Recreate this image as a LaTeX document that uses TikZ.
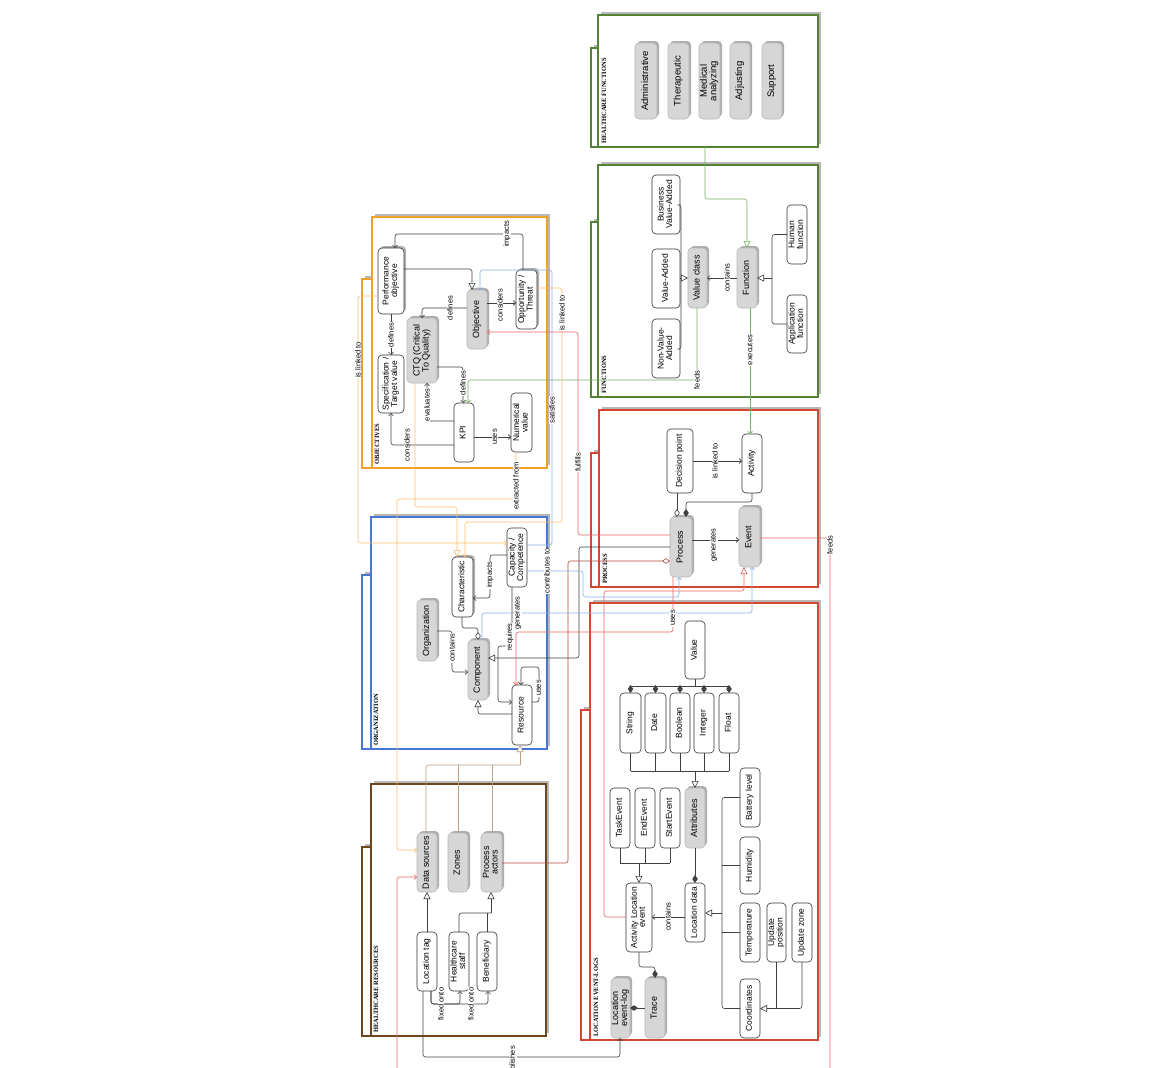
\documentclass[tikz,border=0pt]{standalone}
\usepackage{fontspec}
\setmainfont{Liberation Sans}
\newfontfamily\titlefont{Liberation Serif}
\usetikzlibrary{arrows.meta,shadows}
\definecolor{cgreen}{RGB}{84,130,53}
\definecolor{lgreen}{RGB}{120,178,100}
\definecolor{corange}{RGB}{240,160,40}
\definecolor{lorange}{RGB}{250,190,110}
\definecolor{cblue}{RGB}{70,120,210}
\definecolor{lblue}{RGB}{140,175,230}
\definecolor{cred}{RGB}{210,70,50}
\definecolor{lred}{RGB}{230,100,100}
\definecolor{cbrown}{RGB}{110,70,30}
\definecolor{lbrown}{RGB}{190,160,130}
\definecolor{dred}{RGB}{180,75,60}
\renewcommand{\arraystretch}{0.85}
\newcommand{\mkbox}[7]{\node[#1, minimum width={(#5-#3)*1pt}, minimum height={(#6-#4)*1pt}] (#2) at ({(#3+#5)/2},{(#4+#6)/2}) {\rotatebox{90}{\begin{tabular}{@{}c@{}}#7\end{tabular}}};}
\newcommand{\mkcont}[7]{%
  \fill[black!28] ({#6+3},{#7-3}) rectangle ({#2+3},{#5-3});
  \filldraw[fill=white, draw=#1, line width=1.2pt] (#6,#7) rectangle (#2,#5);
  \fill[black!28] ({#2+3},{#3-3}) rectangle ({#4+3},{#5-3});
  \filldraw[fill=white, draw=#1, line width=1.2pt] (#2,#3) rectangle (#4,#5);}
\begin{document}
\begin{tikzpicture}[x=1pt,y=-1pt,
  box/.style={rectangle, rounded corners=4pt, inner sep=0pt, outer sep=0pt, draw=black!80, line width=0.6pt, fill=white, font=\fontsize{8.5}{9.3}\selectfont},
  wbox/.style={box},
  wsbox/.style={box, drop shadow={shadow xshift=2pt,shadow yshift=2pt,opacity=1,fill=black!30}},
  gbox/.style={box, fill=black!16, draw=black!28, font=\fontsize{9}{9.8}\selectfont, drop shadow={shadow xshift=2pt,shadow yshift=2pt,opacity=1,fill=black!32}},
  hbox/.style={gbox, font=\fontsize{9.5}{10}\selectfont},
  con/.style={draw=black!75, line width=0.6pt, rounded corners=2.5pt},
  lg/.style={draw=lgreen}, lo/.style={draw=lorange}, lb/.style={draw=lblue},
  lr/.style={draw=lred}, lbr/.style={draw=lbrown}, dr/.style={draw=dred},
  arr/.style={-{Straight Barb[length=2.5pt,width=5pt]}},
  gen/.style={-{Triangle[length=7pt,width=7pt,fill=white]}},
  agg/.style={{Diamond[length=8pt,width=5.5pt,fill=white]}-},
  cmp/.style={{Diamond[length=8pt,width=5.5pt]}-},
  lbl/.style={rotate=90, fill=white, inner sep=0.7pt, font=\fontsize{7.5}{8.5}\selectfont},
  ttl/.style={rotate=90, anchor=west, inner sep=0pt, font=\titlefont\bfseries\fontsize{6.5}{7.5}\selectfont}]
\useasboundingbox (0,0) rectangle (1176,1068);
\clip (0,0) rectangle (1176,1068);
\fill[white] (0,0) rectangle (1176,1068);

% containers
\mkcont{cgreen}{598}{15}{818}{147}{591}{48}
\mkcont{cgreen}{598}{165}{818}{397}{591}{222}
\mkcont{corange}{372}{217}{547}{468}{362}{279}
\mkcont{cred}{599}{410}{818}{587}{591}{453}
\mkcont{cblue}{371}{517}{547}{749}{362}{575}
\mkcont{cbrown}{371}{784}{546}{1036}{362}{847}
\mkcont{cred}{590}{603}{818}{1040}{581}{710}

\node[ttl] (t1) at (604,144) {HEALTHCARE FUNCTIONS};
\node[ttl] (t2) at (604,394) {FUNCTIONS};
\node[ttl] (t3) at (377,465) {OBJECTIVES};
\node[ttl] (t4) at (605,584) {PROCESS};
\node[ttl] (t5) at (376,746) {ORGANIZATION};
\node[ttl] (t6) at (376,1033) {HEALTHCARE RESOURCES};
\node[ttl] (t7) at (596,1037) {LOCATION EVENT-LOGS};

% healthcare functions
\mkbox{hbox}{adm}{635}{43}{657}{119}{Administrative}
\mkbox{hbox}{ther}{668}{43}{689}{119}{Therapeutic}
\mkbox{hbox}{med}{699}{43}{720}{119}{Medical\\analyzing}
\mkbox{hbox}{adj}{730}{43}{750}{119}{Adjusting}
\mkbox{hbox}{sup}{762}{43}{782}{119}{Support}
% functions
\mkbox{wbox}{bva}{652}{175}{680}{234}{Business\\Value-Added}
\mkbox{wbox}{va}{652}{249}{680}{308}{Value-Added}
\mkbox{wbox}{nva}{652}{319}{680}{378}{Non-Value-\\Added}
\mkbox{gbox}{vclass}{688}{248}{707}{308}{Value class}
\mkbox{gbox}{func}{737}{248}{757}{308}{Function}
\mkbox{wbox}{hum}{787}{205}{807}{264}{Human\\function}
\mkbox{wbox}{app}{787}{295}{807}{353}{Application\\function}
% objectives
\mkbox{wsbox}{perf}{378}{248}{404}{314}{Performance\\objective}
\mkbox{wbox}{spec}{378}{355}{404}{413}{Specification /\\Target value}
\mkbox{gbox}{ctq}{407}{318}{437}{383}{CTQ (Critical\\To Quality)}
\mkbox{gbox}{obj}{467}{290}{487}{349}{Objective}
\mkbox{wsbox}{opp}{516}{270}{537}{329}{Opportunity /\\Threat}
\mkbox{wbox}{kpi}{454}{403}{474}{462}{KPI}
\mkbox{wbox}{num}{511}{393}{532}{452}{Numerical\\value}
% process
\mkbox{wbox}{dp}{667}{429}{693}{493}{Decision point}
\mkbox{wbox}{act}{742}{434}{762}{493}{Activity}
\mkbox{gbox}{proc}{670}{517}{692}{577}{Process}
\mkbox{gbox}{evt}{739}{507}{760}{567}{Event}
% organization
\mkbox{gbox}{org}{417}{600}{437}{661}{Organization}
\mkbox{wsbox}{char}{452}{557}{473}{617}{Characteristic}
\mkbox{wbox}{cap}{507}{528}{527}{587}{Capacity /\\Competence}
\mkbox{gbox}{comp}{468}{640}{488}{700}{Component}
\mkbox{wbox}{res}{512}{685}{532}{745}{Resource}
% healthcare resources
\mkbox{gbox}{ds}{417}{833}{437}{892}{Data sources}
\mkbox{gbox}{zones}{448}{833}{468}{892}{Zones}
\mkbox{gbox}{pa}{481}{833}{502}{892}{Process\\actors}
\mkbox{wbox}{ltag}{417}{932}{437}{991}{Location tag}
\mkbox{wbox}{hs}{449}{932}{469}{991}{Healthcare\\staff}
\mkbox{wbox}{ben}{477}{932}{497}{991}{Beneficiary}
% location event-logs
\mkbox{wbox}{val}{685}{621}{705}{679}{Value}
\mkbox{wbox}{str}{620}{693}{641}{753}{String}
\mkbox{wbox}{date}{645}{693}{666}{753}{Date}
\mkbox{wbox}{bool}{670}{693}{690}{753}{Boolean}
\mkbox{wbox}{int}{694}{693}{714}{753}{Integer}
\mkbox{wbox}{flt}{719}{693}{739}{753}{Float}
\mkbox{wbox}{task}{610}{788}{630}{848}{TaskEvent}
\mkbox{wbox}{endev}{635}{788}{655}{848}{EndEvent}
\mkbox{wbox}{start}{660}{788}{680}{848}{StartEvent}
\mkbox{gbox}{attr}{685}{788}{705}{848}{Attributes}
\mkbox{wbox}{batt}{740}{768}{760}{827}{Battery level}
\mkbox{wbox}{hum2}{740}{837}{760}{894}{Humidity}
\mkbox{wbox}{temp}{740}{903}{760}{962}{Temperature}
\mkbox{wbox}{upos}{767}{903}{786}{962}{Update\\position}
\mkbox{wbox}{uzone}{792}{903}{812}{962}{Update zone}
\mkbox{wbox}{coord}{740}{979}{760}{1038}{Coordinates}
\mkbox{wbox}{ale}{626}{883}{652}{952}{Activity Location\\event}
\mkbox{wbox}{ldata}{685}{883}{705}{942}{Location data}
\mkbox{gbox}{lel}{611}{978}{630}{1038}{Location\\event-log}
\mkbox{gbox}{trace}{645}{978}{665}{1038}{Trace}

\coordinate (hfbot) at (705,147);
\coordinate (feedsout) at (830,1068);
\coordinate (feedsin) at (397,1068);

% ---- functions
\draw[con] (bva.east |- 0,205) -- (681,205) -- (681,349) -- (nva.east |- 0,349);
\draw[con] (va.east) -- (681,278.5);
\draw[con,gen] (681,278) -- (vclass.west |- 0,278);
\draw[con,arr] (func.west) -- (vclass.east);
\draw[con] (hum.west) -- (772,234.5) -- (772,324) -- (app.west);
\draw[con,gen] (772,278) -- (func.east |- 0,278);
\draw[con,lg,gen] (hfbot) -- (705,199) -- (747,199) -- (func.north -| 747,0);
\draw[con,lg,arr] (vclass.south -| 697,0) -- (697,380) -- (468,380) -- (kpi.north -| 468,0);
\draw[con,lg,arr] (func.south -| 750,0) -- (act.north -| 750,0);
% ---- objectives
\draw[con,arr] (opp.north -| 523,0) -- (523,234) -- (395,234) -- (perf.north -| 395,0);
\draw[con,gen] (perf.east |- 0,269) -- (472,269) -- (obj.north -| 472,0);
\draw[con,arr] (obj.east |- 0,303) -- (opp.west |- 0,303);
\draw[con,arr] (obj.west |- 0,308) -- (422,308) -- (ctq.north -| 422,0);
\draw[con,arr] (perf.south -| 391,0) -- (spec.north -| 391,0);
\draw[con,arr] (ctq.east |- 0,367) -- (463,367) -- (kpi.north -| 463,0);
\draw[con,arr] (kpi.west |- 0,421) -- (427,421) -- (ctq.south -| 427,0);
\draw[con,arr] (kpi.west |- 0,445) -- (391,445) -- (spec.south -| 391,0);
\draw[con,arr] (kpi.east |- 0,437) -- (num.west |- 0,437);
% ---- organization
\draw[con,arr] (org.east |- 0,631) -- (452,631) -- (452,672) -- (comp.west |- 0,672);
\draw[con,agg] (comp.north -| 478,0) -- (478,628) -- (462,628) -- (char.south -| 462,0);
\draw[con,arr] (cap.west |- 0,555) -- (490,555) -- (490,598) -- (char.east |- 0,598);
\draw[con,gen] (res.west |- 0,714) -- (478,714) -- (comp.south -| 478,0);
\draw[con,arr] (res.east |- 0,702) -- (539,702) -- (539,667) -- (521,667) -- (res.north -| 521,0);
\draw[con,arr] (cap.south -| 512,0) -- (512,646) -- (498,646) -- (498,702) -- (res.west |- 0,702);
\draw[con,gen] (proc.west |- 0,547) -- (579,547) -- (579,658) -- (comp.east |- 0,658);
% ---- process
\draw[con,arr] (dp.east |- 0,461) -- (act.west |- 0,461);
\draw[con,agg] (proc.north -| 677,0) -- (dp.south -| 677,0);
\draw[con,cmp] (proc.north -| 686,0) -- (686,502) -- (752,502) -- (act.south -| 752,0);
\draw[con,arr] (proc.east |- 0,540) -- (evt.west |- 0,540);
% ---- healthcare resources
\draw[con,gen] (ltag.north) -- (ds.south);
\draw[con] (hs.north) -- (459,913) -- (491,913);
\draw[con] (ben.north -| 487,0) -- (487,913);
\draw[con,gen] (491,913) -- (pa.south -| 491,0);
\draw[con,arr] (ltag.south -| 431,0) -- (431,1004) -- (460,1004) -- (hs.south -| 460,0);
\draw[con,arr] (ltag.south -| 431,0) -- (431,1004) -- (488,1004) -- (ben.south -| 488,0);
\draw[con,arr] (ltag.south -| 423,0) -- (423,1057) -- (620,1057) -- (lel.south -| 620,0);
\draw[con,lbr] (ds.north -| 426,0) -- (426,765) -- (520,765);
\draw[con,lbr] (zones.north) -- (zones.north |- 0,765);
\draw[con,lbr] (pa.north -| 492,0) -- (492,765);
\draw[con,lbr,gen] (520,765) -- (res.south -| 520,0);
\draw[con,dr,agg] (proc.west |- 0,561) -- (568,561) -- (568,863) -- (pa.east |- 0,863);
% ---- location event-logs
\draw[con] (val.south) -- (695,686);
\draw[con] (630.5,686) -- (729,686);
\foreach \n in {str,date,bool,int,flt} {\draw[con,cmp] (\n.north) -- (\n.north |- 0,686);}
\foreach \n in {str,date,bool,int,flt} {\draw[con] (\n.south) -- (\n.south |- 0,771);}
\draw[con] (630.5,771) -- (729,771);
\draw[con,gen] (695,771) -- (attr.north);
\foreach \n in {task,endev,start} {\draw[con] (\n.south) -- (\n.south |- 0,863);}
\draw[con] (620,863) -- (670,863);
\draw[con,gen] (639,863) -- (ale.north -| 639,0);
\draw[con,cmp] (ldata.north) -- (attr.south);
\draw[con,arr] (ldata.west |- 0,917) -- (ale.east |- 0,917);
\draw[con] (batt.west) -- (722,797.5) -- (722,1008.5) -- (coord.west);
\draw[con] (hum2.west) -- (722,865.5);
\draw[con] (temp.west) -- (722,932.5);
\draw[con,gen] (722,913) -- (ldata.east |- 0,913);
\draw[con] (upos.south) -- (upos.south |- 0,1008.5);
\draw[con,gen] (uzone.south) -- (802,1008.5) -- (coord.east);
\draw[con,cmp] (trace.north) -- (655,967) -- (639,967) -- (ale.south);
\draw[con,cmp] (lel.east) -- (trace.west);
% ---- long colored connectors
\draw[con,lr,arr] (proc.west |- 0,535) -- (578,535) -- (578,332) -- (obj.east |- 0,332);
\draw[con,lr,arr] (proc.south -| 673,0) -- (673,632) -- (516,632) -- (res.north -| 516,0);
\draw[con,lr,gen] (ale.west |- 0,917) -- (604,917) -- (604,591) -- (744,591) -- (evt.south -| 744,0);
\draw[con,lr] (evt.east |- 0,538) -- (830,538) -- (feedsout);
\draw[con,lr,arr] (feedsin) -- (397,877) -- (ds.west |- 0,877);
\draw[con,lb,arr] (comp.north -| 482,0) -- (482,613) -- (752,613) -- (evt.south -| 752,0);
\draw[con,lb,arr] (cap.east |- 0,545) -- (552,545) -- (552,270) -- (480,270) -- (obj.north -| 480,0);
\draw[con,lb,arr] (cap.east |- 0,571) -- (583,571) -- (583,597) -- (679,597) -- (proc.south -| 679,0);
\draw[con,lo,arr] (perf.west |- 0,296) -- (358,296) -- (358,543) -- (cap.west |- 0,543);
\draw[con,lo,gen] (ctq.south -| 415,0) -- (415,507) -- (457,507) -- (char.north -| 457,0);
\draw[con,lo,arr] (opp.east |- 0,288) -- (562,288) -- (562,522) -- (465,522) -- (char.north -| 465,0);
\draw[con,lo,arr] (num.south -| 516,0) -- (516,499) -- (397,499) -- (397,850) -- (ds.west |- 0,850);

% ---- labels
\node[lbl] (l1) at (727,278) {contains};
\node[lbl] (l2) at (697,380) {feeds};
\node[lbl] (l3) at (750,350) {executes};
\node[lbl] (l4) at (507,234) {impacts};
\node[lbl] (l5) at (500,305) {considers};
\node[lbl] (l6) at (450,308) {defines};
\node[lbl] (l7) at (391,335) {defines};
\node[lbl] (l8) at (463,383) {defines};
\node[lbl] (l9) at (427,405) {evaluates};
\node[lbl] (l10) at (407,445) {considers};
\node[lbl] (l11) at (495,437) {uses};
\node[lbl] (l12) at (358,360) {is linked to};
\node[lbl] (l13) at (562,313) {is linked to};
\node[lbl] (l14) at (516,486) {extracted from};
\node[lbl] (l15) at (552,410) {satisfies};
\node[lbl] (l16) at (578,462) {fulfills};
\node[lbl] (l17) at (452,648) {contains};
\node[lbl] (l18) at (490,575) {impacts};
\node[lbl] (l19) at (518,613) {generates};
\node[lbl] (l20) at (510,637) {requires};
\node[lbl] (l21) at (539,688) {uses};
\node[lbl] (l22) at (547,571) {contributes to};
\node[lbl] (l23) at (715,461) {is linked to};
\node[lbl] (l24) at (714,545) {generates};
\node[lbl] (l25) at (830,545) {feeds};
\node[lbl] (l26) at (673,618) {uses};
\node[lbl] (l27) at (441,1004) {fixed onto};
\node[lbl] (l28) at (471,1004) {fixed onto};
\node[lbl] (l29) at (513,1062) {publishes};
\node[lbl] (l30) at (668,917) {contains};
\end{tikzpicture}
\end{document}
